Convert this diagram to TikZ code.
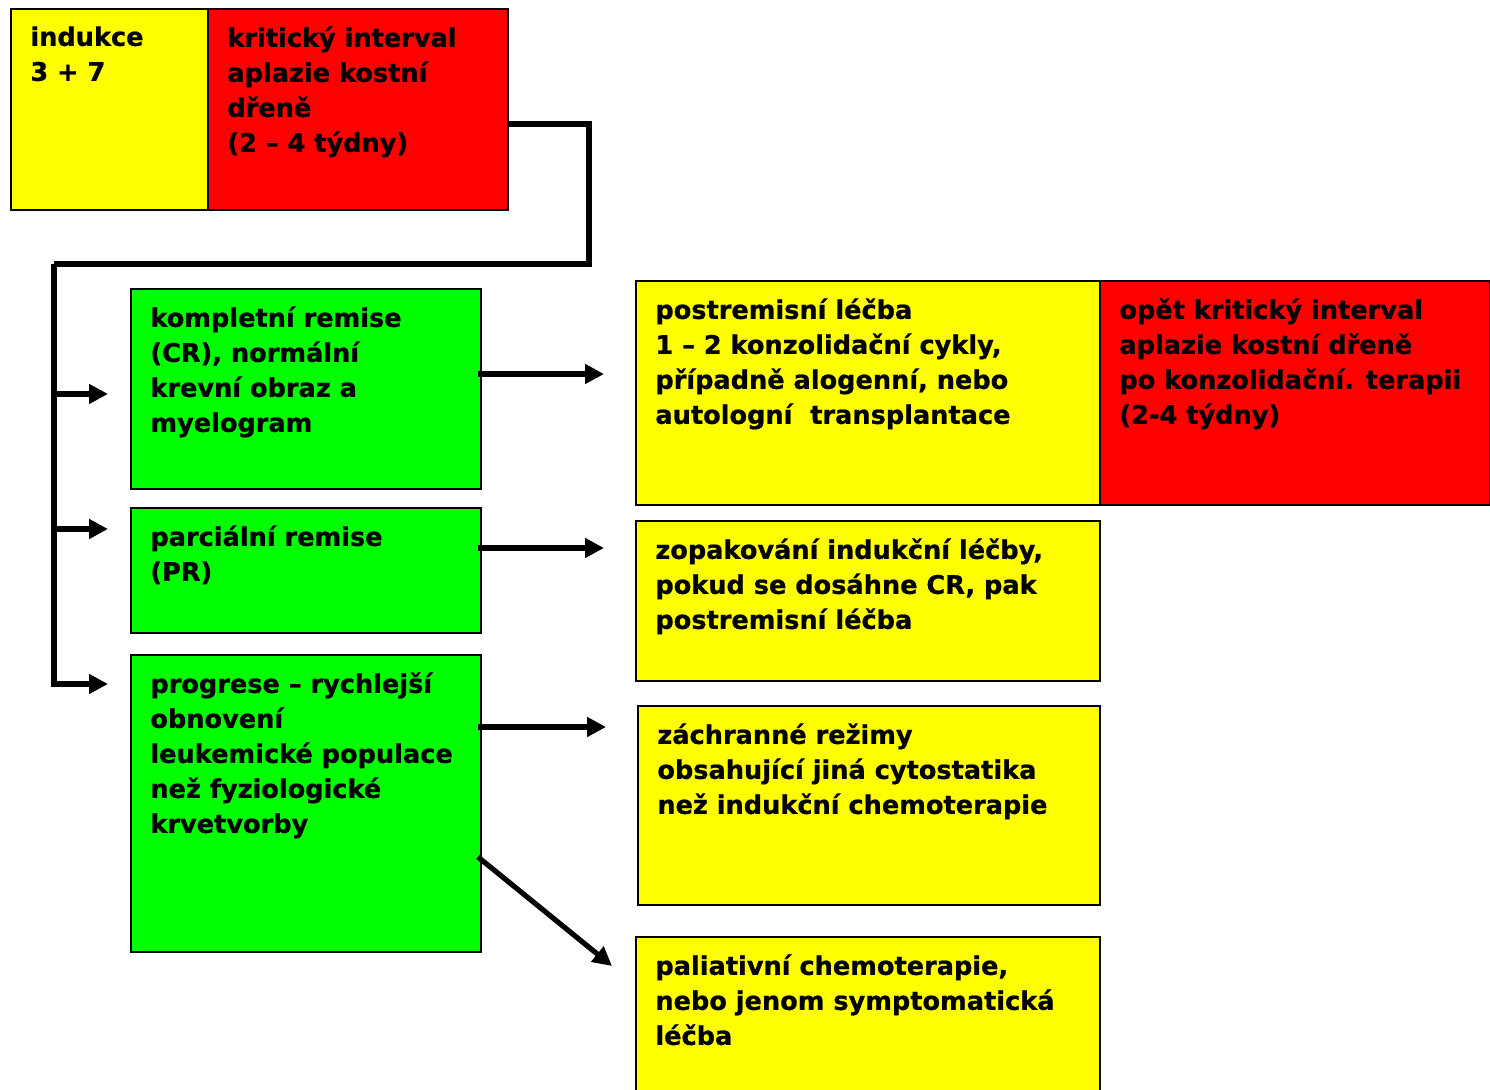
\documentclass[tikz,border=0pt]{standalone}
\usepackage{fontspec}
\setmainfont{DejaVu Sans}[BoldFeatures={FakeBold=0.8}]
\usepackage{tikz}
\usetikzlibrary{arrows.meta, positioning, calc}
\definecolor{stageyellow}{RGB}{255,255,0}
\definecolor{critred}{RGB}{255,0,0}
\definecolor{remisgreen}{RGB}{0,255,0}

\begin{document}
\begin{tikzpicture}[
    x=0.5pt, y=-0.5pt,
    box/.style={draw, rectangle, line width=1pt, anchor=north west, inner sep=0pt},
    stage/.style={box, fill=stageyellow},
    crit/.style={box, fill=critred},
    remis/.style={box, fill=remisgreen},
    txt/.style={anchor=north west, inner sep=0pt, align=left, font=\fontsize{12.8}{17.5}\selectfont\bfseries},
    line/.style={line width=2.6pt},
    >={Triangle[length=9.5pt, width=9.5pt]}
  ]
  \useasboundingbox (0,0) rectangle (1490,1090);

  % Boxes
  \node[stage, minimum width=98.5pt, minimum height=100.5pt] (ind) at (10,8) {};
  \node[crit, minimum width=150pt, minimum height=100.5pt] (krit) at (207,8) {};
  \node[remis, minimum width=175pt, minimum height=100pt] (cr) at (130,288) {};
  \node[remis, minimum width=175pt, minimum height=62.5pt] (pr) at (130,507) {};
  \node[remis, minimum width=175pt, minimum height=148.5pt] (prog) at (130,654) {};
  \node[stage, minimum width=232pt, minimum height=112pt] (post) at (635,280) {};
  \node[crit, minimum width=195pt, minimum height=112pt] (opet) at (1099,280) {};
  \node[stage, minimum width=232pt, minimum height=80pt] (zop) at (635,520) {};
  \node[stage, minimum width=231pt, minimum height=99.5pt] (zach) at (637,705) {};
  \node[stage, minimum width=232pt, minimum height=78pt] (pal) at (635,936) {};

  % Texts
  \node[txt, below right=9pt and 10pt of ind.north west] (ind-t) {indukce\\3 + 7};
  \node[txt, below right=9pt and 10pt of krit.north west] (krit-t) {kritický interval\\aplazie kostní\\dřeně\\(2 – 4 týdny)};
  \node[txt, below right=9pt and 10pt of cr.north west] (cr-t) {kompletní remise\\(CR), normální\\krevní obraz a\\myelogram};
  \node[txt, below right=9pt and 10pt of pr.north west] (pr-t) {parciální remise\\(PR)};
  \node[txt, below right=9pt and 10pt of prog.north west] (prog-t) {progrese – rychlejší\\obnovení\\leukemické populace\\než fyziologické\\krvetvorby};
  \node[txt, below right=9pt and 10pt of post.north west] (post-t) {postremisní léčba\\1 – 2 konzolidační cykly,\\případně alogenní, nebo\\autologní~ transplantace};
  \node[txt, below right=9pt and 10pt of opet.north west] (opet-t) {opět kritický interval\\aplazie kostní dřeně\\po konzolidační. terapii\\(2-4 týdny)};
  \node[txt, below right=9pt and 10pt of zop.north west] (zop-t) {zopakování indukční léčby,\\pokud se dosáhne CR, pak\\postremisní léčba};
  \node[txt, below right=9pt and 10pt of zach.north west] (zach-t) {záchranné režimy\\obsahující jiná cytostatika\\než indukční chemoterapie};
  \node[txt, below right=9pt and 10pt of pal.north west] (pal-t) {paliativní chemoterapie,\\nebo jenom symptomatická\\léčba};

  % Connections
  \coordinate (split) at (54,264);
  \coordinate (cr-in) at ([yshift=-53pt]cr.north west);
  \coordinate (pr-in) at ([yshift=-11pt]pr.north west);
  \coordinate (prog-in) at ([yshift=-15pt]prog.north west);
  \coordinate (cr-out) at ([xshift=-2pt, yshift=-43pt]cr.north east);
  \coordinate (pr-out) at ([xshift=-2pt, yshift=-20.5pt]pr.north east);
  \coordinate (prog-out) at ([xshift=-2pt, yshift=-36.5pt]prog.north east);
  \coordinate (prog-low) at ([xshift=-2pt, yshift=-101.5pt]prog.north east);

  \draw[line] ([yshift=-7.25pt]krit.east) -- ++(80,0) |- (split);
  \draw[line, ->, shorten >=11pt] (split) |- (prog-in);
  \draw[line, ->, shorten >=11pt] (split |- cr-in) -- (cr-in);
  \draw[line, ->, shorten >=11pt] (split |- pr-in) -- (pr-in);
  \draw[line, ->, shorten >=15.5pt] (cr-out) -- (post.west |- cr-out);
  \draw[line, ->, shorten >=15.5pt] (pr-out) -- (zop.west |- pr-out);
  \draw[line, ->, shorten >=15.5pt] (prog-out) -- (zach.west |- prog-out);
  \draw[line, ->] (prog-low) -- ([xshift=-11.5pt, yshift=-15pt]pal.north west);
\end{tikzpicture}
\end{document}
